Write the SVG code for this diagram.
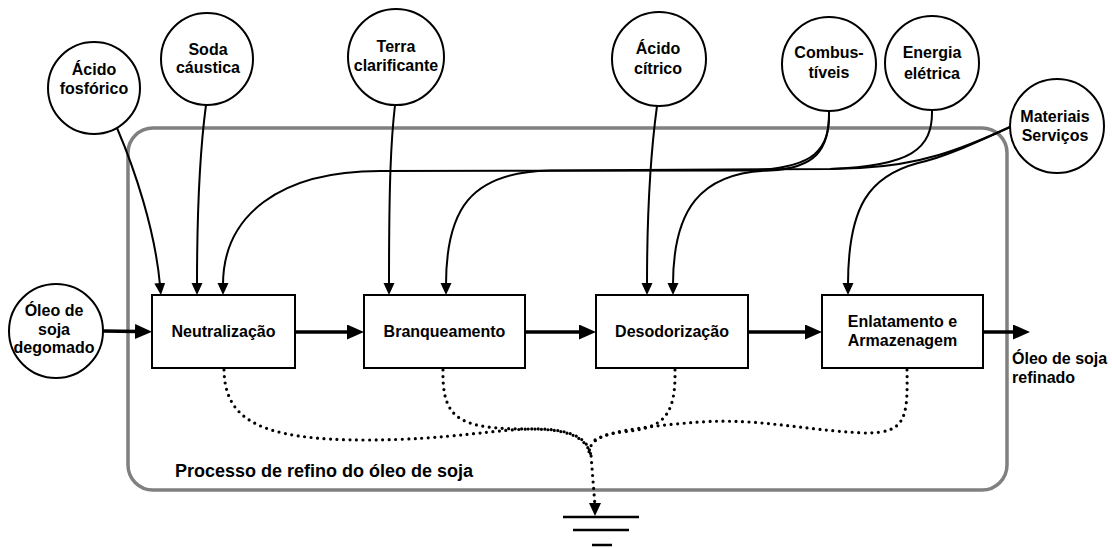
<svg xmlns="http://www.w3.org/2000/svg" width="1112" height="548" viewBox="0 0 1112 548">
<style>
text{font-family:"Liberation Sans",Arial,Helvetica,sans-serif;font-weight:bold;font-size:16px;fill:#000;text-anchor:middle}
.node{fill:#fff;stroke:#000;stroke-width:2}
.c{fill:none;stroke:#000;stroke-width:2}
.thick{fill:none;stroke:#000;stroke-width:3.5}
.dot{fill:none;stroke:#000;stroke-width:3.2;stroke-linecap:round;stroke-dasharray:0 6.5}
.frame{fill:none;stroke:#808080;stroke-width:3.5}
.gnd{stroke:#000;stroke-width:2.5}
</style>
<defs>
<marker id="a" markerUnits="userSpaceOnUse" markerWidth="14" markerHeight="12" refX="2" refY="5.5" orient="auto"><path d="M0,0 L12,5.5 L0,11 z" fill="#000"/></marker>
<marker id="b" markerUnits="userSpaceOnUse" markerWidth="18" markerHeight="16" refX="2" refY="7.5" orient="auto"><path d="M0,0 L17,7.5 L0,15 z" fill="#000"/></marker>
</defs>

<g id="container">
<rect class="frame" x="128" y="128" width="879" height="362" rx="25" ry="25"/>
<text x="175" y="477" style="text-anchor:start;font-size:18px">Processo de refino do óleo de soja</text>
</g>

<g id="connectors">
<path class="c" marker-end="url(#a)" d="M117,128 C135,170 155,230 160,285"/>
<path class="c" marker-end="url(#a)" d="M206,105 C200,150 197,200 197,285"/>
<path class="c" marker-end="url(#a)" d="M395,105 C391,140 389,180 389,285"/>
<path class="c" marker-end="url(#a)" d="M657,106 C651,150 647,200 647,285"/>
<path class="c" marker-end="url(#a)" d="M829,111 C830,150 815,168 750,170.5 L380,171 C280,171 223,215 223,285"/>
<path class="c" marker-end="url(#a)" d="M932,110 C933,150 910,166 830,169 L550,170.5 C470,172 446,210 446,285"/>
<path class="c" marker-end="url(#a)" d="M829,111 C830,150 815,168 770,170.5 C700,172 673,210 673,285"/>
<path class="c" d="M1010,127 C960,150 920,165 860,168 L830,169"/>
<path class="c" marker-end="url(#a)" d="M1010,127 C975,143 945,157 918,163 C870,176 848,205 848,285"/>
<path class="thick" marker-end="url(#b)" d="M103,331 L137,331.5"/>
<path class="thick" marker-end="url(#b)" d="M295,332 L349,332"/>
<path class="thick" marker-end="url(#b)" d="M525,332 L581,332"/>
<path class="thick" marker-end="url(#b)" d="M748,332 L807,332"/>
<path class="thick" marker-end="url(#b)" d="M983,332 L1015,332"/>
<path class="dot" d="M224,370 C225,420 260,440 367,440 C450,440 500,428 540,429 C575,430 588,440 591,455 L595,506"/>
<path class="dot" d="M443,370 C442,420 460,429 530,429 C570,429 586,438 591,455"/>
<path class="dot" d="M675,370 C676,420 660,428 623,432 C600,434 590,442 589,452"/>
<path class="dot" d="M907,370 C908,420 905,433 865,433 C800,430 760,418 700,422 C660,425 610,430 595,440"/>
<path d="M589,503 L601,503 L595,516 z" fill="#000"/>
</g>

<g id="ground">
<line class="gnd" x1="563" y1="517" x2="639" y2="517"/>
<line class="gnd" x1="573" y1="530" x2="629" y2="530"/>
<line class="gnd" x1="592" y1="545" x2="612" y2="545"/>
</g>

<g id="acido-fosforico"><circle class="node" cx="94" cy="88" r="46"/><text x="94" y="75">Ácido</text><text x="94" y="94">fosfórico</text></g>
<g id="soda-caustica"><circle class="node" cx="207" cy="59" r="46"/><text x="208" y="55">Soda</text><text x="208" y="73">cáustica</text></g>
<g id="terra-clarificante"><circle class="node" cx="396" cy="57" r="48"/><text x="396" y="52">Terra</text><text x="396" y="71">clarificante</text></g>
<g id="acido-citrico"><circle class="node" cx="659" cy="59" r="47"/><text x="658" y="54">Ácido</text><text x="658" y="74">cítrico</text></g>
<g id="combustiveis"><circle class="node" cx="829" cy="64" r="47"/><text x="829" y="58">Combus-</text><text x="829" y="78">tíveis</text></g>
<g id="energia-eletrica"><circle class="node" cx="932" cy="63" r="47"/><text x="932" y="58">Energia</text><text x="932" y="79">elétrica</text></g>
<g id="materiais-servicos"><circle class="node" cx="1057" cy="126" r="47"/><text x="1055" y="122">Materiais</text><text x="1055" y="141">Serviços</text></g>
<g id="oleo-degomado"><circle class="node" cx="56" cy="331" r="47"/><text x="54" y="316">Óleo de</text><text x="54" y="335">soja</text><text x="54" y="353">degomado</text></g>

<g id="neutralizacao"><rect class="node" x="152" y="295" width="143" height="73"/><text x="223.5" y="337">Neutralização</text></g>
<g id="branqueamento"><rect class="node" x="364" y="295" width="161" height="73"/><text x="444.5" y="337">Branqueamento</text></g>
<g id="desodorizacao"><rect class="node" x="596" y="295" width="152" height="73"/><text x="672" y="337">Desodorização</text></g>
<g id="enlatamento"><rect class="node" x="822" y="295" width="161" height="73"/><text x="902.5" y="327">Enlatamento e</text><text x="902.5" y="346">Armazenagem</text></g>

<g id="oleo-refinado"><text x="1012" y="364" style="text-anchor:start">Óleo de soja</text><text x="1012" y="383" style="text-anchor:start">refinado</text></g>
</svg>
